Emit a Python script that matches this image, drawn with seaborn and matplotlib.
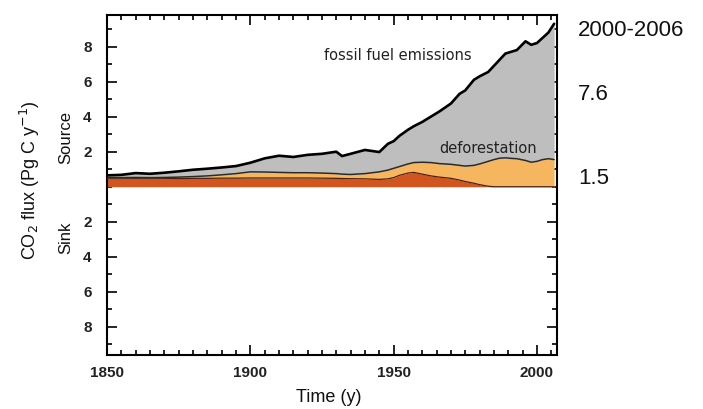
import matplotlib
matplotlib.use("Agg")
import matplotlib.pyplot as plt
import seaborn as sns
import numpy as np
import pandas as pd
from matplotlib.ticker import MultipleLocator

# ---------------- data ----------------
years = [1850, 1855, 1860, 1865, 1870, 1875, 1880, 1885, 1890, 1895,
         1900, 1905, 1910, 1915, 1920, 1925, 1930, 1932, 1935, 1940,
         1945, 1948, 1950, 1952, 1955, 1957, 1960, 1963, 1966, 1970,
         1973, 1975, 1978, 1980, 1983, 1985, 1987, 1989, 1991, 1993,
         1996, 1998, 2000, 2002, 2004, 2006]

# upper edge of the whole source stack (fossil fuel + deforestation)
total_source = [0.65, 0.68, 0.78, 0.74, 0.80, 0.88, 0.97, 1.03, 1.10, 1.18,
                1.37, 1.62, 1.77, 1.70, 1.82, 1.88, 2.00, 1.75, 1.88, 2.10,
                1.98, 2.45, 2.60, 2.90, 3.25, 3.45, 3.70, 4.00, 4.30, 4.75,
                5.30, 5.50, 6.10, 6.30, 6.55, 6.90, 7.25, 7.60, 7.70, 7.80,
                8.30, 8.10, 8.20, 8.50, 8.80, 9.30]

# upper edge of the deforestation (light orange) layer
deforestation_top = [0.52, 0.52, 0.53, 0.52, 0.53, 0.55, 0.58, 0.62, 0.68, 0.75,
                     0.85, 0.84, 0.82, 0.80, 0.80, 0.78, 0.75, 0.72, 0.70, 0.75,
                     0.85, 0.95, 1.05, 1.15, 1.30, 1.38, 1.40, 1.38, 1.32, 1.28,
                     1.22, 1.18, 1.22, 1.30, 1.45, 1.55, 1.63, 1.65, 1.62, 1.60,
                     1.50, 1.40, 1.45, 1.55, 1.60, 1.55]

# upper edge of the lower (dark orange) land-use layer
landuse_other_top = [0.45, 0.45, 0.46, 0.45, 0.46, 0.47, 0.48, 0.48, 0.49, 0.49,
                     0.50, 0.50, 0.50, 0.50, 0.50, 0.49, 0.48, 0.47, 0.46, 0.45,
                     0.42, 0.45, 0.52, 0.65, 0.78, 0.82, 0.72, 0.62, 0.55, 0.48,
                     0.38, 0.30, 0.20, 0.12, 0.03, 0.0, 0.0, 0.0, 0.0, 0.0,
                     0.0, 0.0, 0.0, 0.0, 0.0, 0.0]

y_tick_values = [-8, -6, -4, -2, 2, 4, 6, 8]
y_tick_labels = ["8", "6", "4", "2", "2", "4", "6", "8"]
x_tick_values = [1850, 1900, 1950, 2000]
x_tick_labels = ["1850", "1900", "1950", "2000"]
side_labels = ["2000-2006", "7.6", "1.5"]

df = pd.DataFrame({"year": years, "total": total_source,
                   "defor": deforestation_top, "other": landuse_other_top})

# ---------------- style ----------------
sns.set_theme(style="ticks")
plt.rcParams["font.family"] = ["Liberation Sans", "DejaVu Sans"]

fig = plt.figure(figsize=(7.03, 4.09), dpi=100)
ax = fig.add_axes([107/703, 1-355/409, (557-107)/703, (355-15)/409])

GRAY = "#bebebe"
LIGHT = "#f6b65f"
DARK = "#d2541e"

ax.fill_between(df["year"], 0, df["other"], color=DARK, linewidth=0, zorder=2)
ax.fill_between(df["year"], df["other"], df["defor"], color=LIGHT, linewidth=0, zorder=2)
ax.fill_between(df["year"], df["defor"], df["total"], color=GRAY, linewidth=0, zorder=2)

sns.lineplot(data=df, x="year", y="other", ax=ax, color="#4a2010", linewidth=0.9, zorder=3)
sns.lineplot(data=df, x="year", y="defor", ax=ax, color="#2a2a2a", linewidth=1.1, zorder=3)
sns.lineplot(data=df, x="year", y="total", ax=ax, color="black", linewidth=1.9, zorder=4)

ax.set_xlim(1850, 2007)
ax.set_ylim(-9.6, 9.8)

tick_fd = {"family": ["Liberation Sans", "DejaVu Sans"], "weight": "bold",
           "size": 11, "color": "#222222"}
ax.set_xticks(x_tick_values)
ax.set_xticklabels(x_tick_labels, fontdict=tick_fd)
ax.set_yticks(y_tick_values)
ax.set_yticklabels(y_tick_labels, fontdict=tick_fd)
ax.xaxis.set_minor_locator(MultipleLocator(5))
ax.yaxis.set_minor_locator(MultipleLocator(1))

ax.tick_params(which="both", direction="in", top=True, right=True, color="black")
ax.tick_params(axis="x", which="major", length=7, width=1.2, pad=8)
ax.tick_params(axis="y", which="major", length=7, width=1.2, pad=11)
ax.tick_params(which="minor", length=3.5, width=1.2)
for s in ax.spines.values():
    s.set_linewidth(1.5)
    s.set_color("black")

ax.set_xlabel("")
ax.set_ylabel("")

# annotations inside the plot
ax.text(1951.4, 7.5, "fossil fuel emissions", fontsize=10.5, color="#222222",
        family=["DejaVu Sans"], ha="center", va="center", zorder=5)
ax.text(1983.1, 2.17, "deforestation", fontsize=10.5, color="#222222",
        family=["DejaVu Sans"], ha="center", va="center", zorder=5)

# axis titles
fig.text(30/703, 1-180/409, r"CO$_2$ flux (Pg C y$^{-1}$)", rotation=90,
         ha="center", va="center", fontsize=13, color="#111111")
fig.text(66/703, 1-137/409, "Source", rotation=90, ha="center", va="center",
         fontsize=12, color="#111111")
fig.text(66/703, 1-238/409, "Sink", rotation=90, ha="center", va="center",
         fontsize=12, color="#111111")
fig.text(329/703, 1-397/409, "Time (y)", ha="center", va="center",
         fontsize=13, color="#111111")

# right side figures
side_y = [30, 95, 178]
for txt, yy in zip(side_labels, side_y):
    fig.text(578/703, 1-yy/409, txt, ha="left", va="center", fontsize=16,
             color="#111111")

fig.savefig("out.png", dpi=100)
